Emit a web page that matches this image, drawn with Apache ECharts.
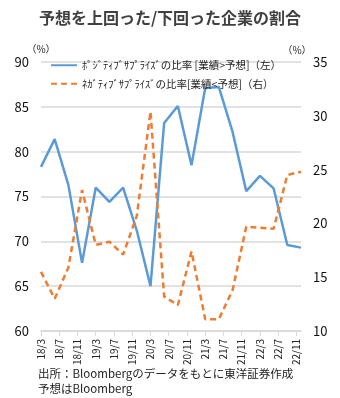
<!DOCTYPE html>
<html><head><meta charset="utf-8">
<script src="https://cdn.jsdelivr.net/npm/echarts@6/dist/echarts.min.js"></script>
<style>html,body{margin:0;padding:0;background:#fff}#c{width:340px;height:398px}</style>
</head><body><div id="c"></div>
<script>
// quarterly observations, Mar 2018 .. Dec 2022
var quarters = ['18/3','18/6','18/9','18/12','19/3','19/6','19/9','19/12','20/3','20/6','20/9','20/12','21/3','21/6','21/9','21/12','22/3','22/6','22/9','22/12'];
var positive = [78.3, 81.4, 76.3, 67.6, 76.0, 74.4, 76.0, 71.2, 65.0, 83.2, 85.1, 78.5, 87.1, 87.2, 82.2, 75.6, 77.3, 75.9, 69.6, 69.3];
var negative = [15.5, 13.0, 15.9, 23.1, 18.0, 18.3, 17.1, 20.7, 30.4, 13.2, 12.4, 17.4, 11.1, 11.1, 13.8, 19.7, 19.6, 19.5, 24.5, 24.8];
var leftTicks = [60, 90, 5];
var rightTicks = [10, 35, 5];
var seriesNames = ['ﾎﾟｼﾞﾃｨﾌﾞｻﾌﾟﾗｲｽﾞの比率 [業績>予想]（左）', 'ﾈｶﾞﾃｨﾌﾞｻﾌﾟﾗｲｽﾞの比率[業績<予想]（右）'];

// monthly category axis 18/3 .. 22/12
var months = [];
for (var y = 18; y <= 22; y++) {
  for (var m = 1; m <= 12; m++) {
    if (y === 18 && m < 3) continue;
    months.push(y + '/' + m);
  }
}
function toMonthly(vals) {
  return quarters.map(function (q, i) { return [months.indexOf(q), vals[i]]; });
}

var chart = echarts.init(document.getElementById('c'));
var font = '"Noto Sans CJK JP", "Noto Sans", sans-serif';
chart.setOption({
  animation: false,
  textStyle: { fontFamily: font },
  title: {
    text: '予想を上回った/下回った企業の割合',
    left: 'center', top: 5,
    textStyle: { fontSize: 16, fontWeight: 'bold', color: '#404040', fontFamily: font }
  },
  legend: {
    orient: 'vertical', left: 45, top: 55, itemGap: 8,
    itemWidth: 26, itemHeight: 10,
    itemStyle: { opacity: 0 },
    textStyle: { fontSize: 10.5, color: '#222', fontFamily: font },
    data: seriesNames
  },
  grid: { left: 41, right: 39, top: 62, bottom: 67 },
  xAxis: {
    type: 'category', data: months, boundaryGap: false,
    axisLine: { lineStyle: { color: '#d9d9d9', width: 1.5 } },
    axisTick: { show: true, interval: 3, length: 5, lineStyle: { color: '#d9d9d9' } },
    axisLabel: { interval: 3, rotate: 90, fontSize: 10, color: '#222', margin: 8, fontFamily: font }
  },
  yAxis: [{
    type: 'value', min: leftTicks[0], max: leftTicks[1], interval: leftTicks[2],
    name: '（%）', nameGap: 8, nameTextStyle: { fontSize: 10, color: '#222', align: 'center' },
    axisLine: { show: false }, axisTick: { show: false },
    axisLabel: { fontSize: 13, color: '#111', margin: 12 },
    splitLine: { lineStyle: { color: '#d9d9d9', width: 1.5 } }
  }, {
    type: 'value', min: rightTicks[0], max: rightTicks[1], interval: rightTicks[2],
    name: '（%）', nameGap: 6, nameTextStyle: { fontSize: 10, color: '#222', align: 'center', padding: [0, 8, 0, 0] },
    axisLine: { show: false }, axisTick: { show: false },
    axisLabel: { fontSize: 13, color: '#111', margin: 12 },
    splitLine: { show: false }
  }],
  series: [{
    name: seriesNames[0], type: 'line', yAxisIndex: 0, showSymbol: false, symbol: 'none',
    data: toMonthly(positive),
    lineStyle: { color: '#5B9BD5', width: 2.5 }, itemStyle: { color: '#5B9BD5' }
  }, {
    name: seriesNames[1], type: 'line', yAxisIndex: 1, showSymbol: false, symbol: 'none',
    data: toMonthly(negative),
    lineStyle: { color: '#ED7D31', width: 2.5, type: [6, 4] }, itemStyle: { color: '#ED7D31' }
  }],
  graphic: [{
    type: 'text', left: 38, top: 366,
    style: { text: '出所：Bloombergのデータをもとに東洋証券作成\n予想はBloomberg', fontSize: 11.5, lineHeight: 15, fill: '#222', fontFamily: font }
  }]
});
</script></body></html>
